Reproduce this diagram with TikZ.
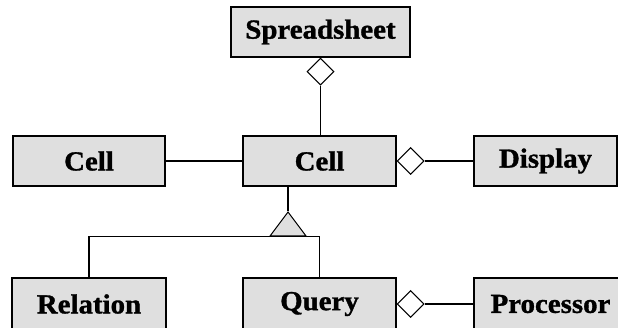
\documentclass[tikz,border=0pt]{standalone}
\usepackage{fontspec}
\setmainfont{Liberation Serif}[FakeStretch=1.05, BoldFeatures={FakeBold=1.2}]
\usepackage{tikz}
\usetikzlibrary{positioning,shapes.geometric}

\begin{document}
\begin{tikzpicture}[
    x=1pt, y=-1pt,
    box/.style={draw, fill=gray!25, line width=1.3pt, minimum height=50pt, inner sep=0pt,
      font=\fontsize{27.5}{27.5}\selectfont\bfseries},
    agg/.style={draw, diamond, fill=white, line width=1pt, inner sep=0pt, minimum width=27pt, minimum height=27pt},
    gen/.style={draw, isosceles triangle, isosceles triangle stretches, shape border rotate=90,
      fill=gray!25, line width=1pt, inner sep=0pt, minimum height=24pt, minimum width=36pt},
    link/.style={line width=1.2pt}
]
\useasboundingbox (0,0) rectangle (618,328);
\clip (0,0) rectangle (618,328);

\node[box, minimum width=179pt] (sheet) at (320.5,32) {Spreadsheet};
\node[box, minimum width=152pt] (cellA) at (89,161) {Cell};
\node[box, minimum width=153pt] (cellB) at (319.5,161) {Cell};
\node[box, minimum width=143pt] (disp) at (545.5,161) {Display};
\node[box, minimum width=154pt, minimum height=52pt] (rel) at (89,304) {Relation};
\node[box, minimum width=153pt, minimum height=52pt] (qry) at (319.5,304) {Query};
\node[box, minimum width=153pt, minimum height=52pt] (proc) at (550.5,304) {Processor};

\node[agg, anchor=north] (d1) at (sheet.south) {};
\node[agg, anchor=west] (d2) at (cellB.east) {};
\node[agg, anchor=west] (d3) at (qry.east) {};
\node[gen] (t1) at (288,227) {};

\draw[link] (d1.south) -- (d1.south |- cellB.north);
\draw[link] (cellA) -- (cellB);
\draw[link] (d2) -- (disp);
\draw[link] (d3) -- (proc);
\draw[link] (t1.apex) -- (t1.apex |- cellB.south);
\draw[link] (rel.north) |- (t1.south) -| (qry.north);

\end{tikzpicture}
\end{document}
